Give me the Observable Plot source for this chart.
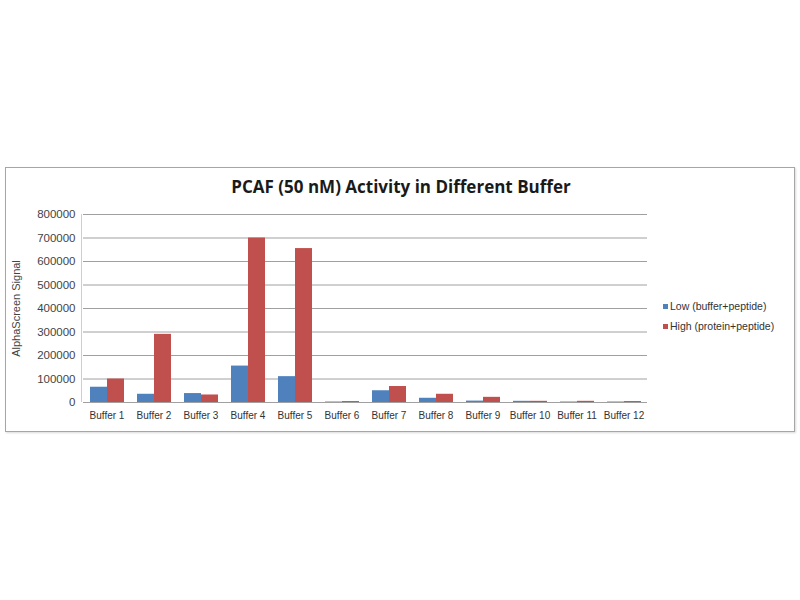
<!DOCTYPE html>
<html>
<head>
<meta charset="utf-8">
<script src="https://cdn.jsdelivr.net/npm/d3@7"></script>
<script src="https://cdn.jsdelivr.net/npm/@observablehq/plot@0.6"></script>
<style>
  body { margin: 0; background: #fff; }
  #wrap { position: relative; width: 800px; height: 600px; overflow: hidden; background: #fff; }
  #box { position: absolute; left: 5px; top: 167px; width: 788px; height: 263px; border: 1px solid #a6a6a6; box-shadow: 1px 1px 2px rgba(0,0,0,0.15); }
  #title { position: absolute; left: 6px; width: 790px; top: 175px; text-align: center; font-family: "Open Sans", sans-serif; font-weight: bold; font-size: 17px; color: #1a1a1a; }
  #legend { position: absolute; left: 663px; top: 299px; font-family: "Liberation Sans", Arial, sans-serif; font-size: 10.5px; color: #333; }
  #legend div { height: 20px; line-height: 14px; white-space: nowrap; }
  #legend span.sw { display: inline-block; width: 5px; height: 5px; margin-right: 2px; vertical-align: 1px; }
  #chart { position: absolute; left: 0; top: 0; }
  #vline { position: absolute; left: 81px; top: 214px; width: 1px; height: 188px; background: #cfcfcf; }
</style>
</head>
<body>
<div id="wrap">
  <div id="box"></div>
  <div id="vline"></div>
  <div id="chart"></div>
  <div id="title"></div>
  <div id="legend"></div>
</div>
<script>
const buffers = ["Buffer 1","Buffer 2","Buffer 3","Buffer 4","Buffer 5","Buffer 6","Buffer 7","Buffer 8","Buffer 9","Buffer 10","Buffer 11","Buffer 12"];
const seriesNames = ["Low (buffer+peptide)", "High (protein+peptide)"];
const lowValues  = [65000, 35000, 38000, 155000, 110000, 2000, 50000, 18000, 6000, 5000, 2000, 2000];
const highValues = [100000, 290000, 32000, 700000, 655000, 4000, 68000, 35000, 22000, 5000, 5000, 4000];
const yTicks = [0, 100000, 200000, 300000, 400000, 500000, 600000, 700000, 800000];
const colors = ["#4F81BD", "#C0504D"];
const titleText = "PCAF (50 nM) Activity in Different Buffer";
const yLabel = "AlphaScreen Signal";

const data = [];
buffers.forEach((b, i) => {
  data.push({buffer: b, series: seriesNames[0], value: lowValues[i]});
  data.push({buffer: b, series: seriesNames[1], value: highValues[i]});
});

document.getElementById("title").textContent = titleText;
const leg = document.getElementById("legend");
seriesNames.forEach((s, i) => {
  const d = document.createElement("div");
  const sw = document.createElement("span");
  sw.className = "sw"; sw.style.background = colors[i];
  d.appendChild(sw);
  d.appendChild(document.createTextNode(s));
  leg.appendChild(d);
});

const chart = Plot.plot({
  width: 800,
  height: 600,
  marginLeft: 81,
  marginRight: 152,
  marginTop: 214,
  marginBottom: 198,
  style: { fontFamily: "Liberation Sans, Arial, sans-serif", background: "transparent", color: "#333" },
  fx: { domain: buffers, padding: 0, label: null },
  x: { domain: seriesNames, axis: null, paddingInner: 0, paddingOuter: 0.31 },
  y: { domain: [0, 800000], ticks: yTicks, label: null },
  color: { domain: seriesNames, range: colors },
  marks: [
    Plot.gridY(yTicks, { stroke: "#a0a0a0", strokeOpacity: 1, strokeWidth: 1 }),
    Plot.barY(data, { fx: "buffer", x: "series", y: "value", fill: "series" }),
    Plot.axisY(yTicks, { tickSize: 0, tickPadding: 8, tickFormat: d3.format("d"), fontSize: 11.5, fill: "#444",
      label: yLabel, labelAnchor: "center", labelArrow: "none", labelOffset: 71 }),
    Plot.axisFx({ anchor: "bottom", tickSize: 0, tickPadding: 9, fontSize: 10, fill: "#333", label: null })
  ]
});
chart.querySelectorAll("text").forEach(t => {
  if (t.textContent === yLabel) { t.setAttribute("font-size", "11"); }
});
document.getElementById("chart").appendChild(chart);
</script>
</body>
</html>
